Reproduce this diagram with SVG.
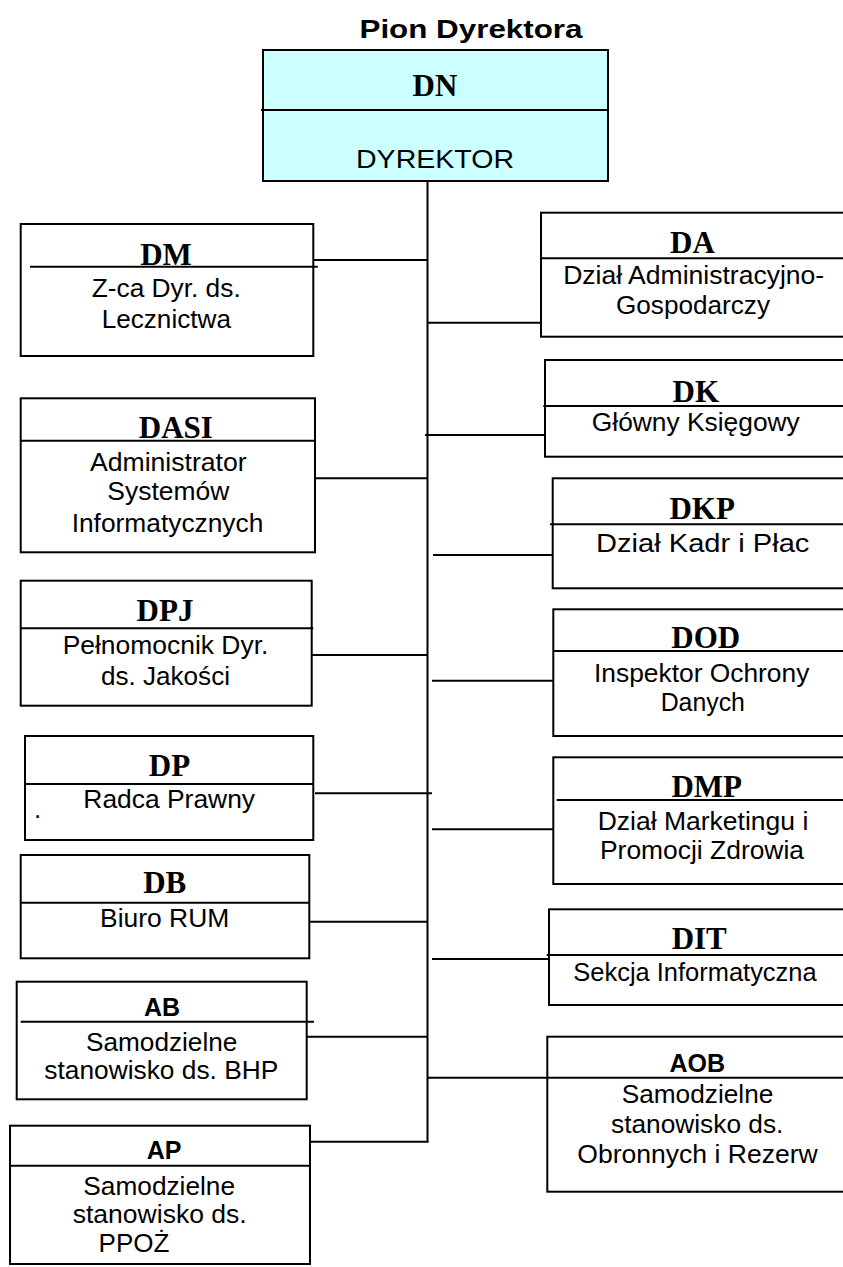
<svg xmlns="http://www.w3.org/2000/svg" width="843" height="1267" viewBox="0 0 843 1267">
<style>
.box{fill:#fff;stroke:#000;stroke-width:2}
.top{fill:#ccffff;stroke:#000;stroke-width:2}
.ln{stroke:#000;stroke-width:2;fill:none}
.h{font-family:"Liberation Serif","Times New Roman",serif;font-weight:bold;font-size:31px;text-anchor:middle;fill:#000}
.hs{font-family:"Liberation Sans",Arial,sans-serif;font-weight:bold;font-size:25px;text-anchor:middle;fill:#000}
.t{font-family:"Liberation Sans",Arial,sans-serif;font-size:26px;text-anchor:middle;fill:#000}
</style>
<rect width="843" height="1267" fill="#fff"/>
<text x="471" y="38" class="hs" font-size="30" textLength="223" lengthAdjust="spacingAndGlyphs">Pion Dyrektora</text>

<g id="connectors">
<line class="ln" x1="427.5" y1="181" x2="427.5" y2="1142"/>
<line class="ln" x1="313" y1="260" x2="427.5" y2="260"/>
<line class="ln" x1="427.5" y1="322.7" x2="541" y2="322.7"/>
<line class="ln" x1="425" y1="435" x2="545" y2="435"/>
<line class="ln" x1="315" y1="478.3" x2="427.5" y2="478.3"/>
<line class="ln" x1="433" y1="555" x2="553" y2="555"/>
<line class="ln" x1="312" y1="655" x2="427.5" y2="655"/>
<line class="ln" x1="432" y1="680.7" x2="553" y2="680.7"/>
<line class="ln" x1="315" y1="793.3" x2="432" y2="793.3"/>
<line class="ln" x1="432" y1="829.3" x2="553" y2="829.3"/>
<line class="ln" x1="307" y1="921.7" x2="427.5" y2="921.7"/>
<line class="ln" x1="432" y1="959" x2="549" y2="959"/>
<line class="ln" x1="307" y1="1036.7" x2="427.5" y2="1036.7"/>
<line class="ln" x1="427.5" y1="1077.7" x2="547" y2="1077.7"/>
<line class="ln" x1="310" y1="1141.7" x2="428.5" y2="1141.7"/>
</g>

<g id="DN">
<rect class="top" x="263" y="50" width="345" height="131"/>
<line class="ln" x1="261" y1="110" x2="609" y2="110"/>
<text x="435" y="95.7" class="h" font-size="36">DN</text>
<text x="435" y="167.7" class="t" font-size="28" textLength="158" lengthAdjust="spacingAndGlyphs">DYREKTOR</text>
</g>

<g id="DM">
<rect class="box" x="20.7" y="224" width="292.6" height="132"/>
<text x="166" y="265" class="h">DM</text>
<line class="ln" x1="30" y1="266.7" x2="317.7" y2="266.7"/>
<text x="166.2" y="297.3" class="t" textLength="149" lengthAdjust="spacingAndGlyphs">Z-ca Dyr. ds.</text>
<text x="166.3" y="328.3" class="t" textLength="129.3" lengthAdjust="spacingAndGlyphs">Lecznictwa</text>
</g>

<g id="DA">
<rect class="box" x="541" y="212.7" width="310" height="124"/>
<line class="ln" x1="541" y1="258.3" x2="851" y2="258.3"/>
<text x="692.5" y="252.7" class="h">DA</text>
<text x="693.7" y="284.3" class="t" textLength="261" lengthAdjust="spacingAndGlyphs">Dział Administracyjno-</text>
<text x="693" y="314.3" class="t" textLength="154" lengthAdjust="spacingAndGlyphs">Gospodarczy</text>
</g>

<g id="DK">
<rect class="box" x="545" y="360" width="306" height="96.7"/>
<line class="ln" x1="543.3" y1="406" x2="851" y2="406"/>
<text x="695.8" y="401.7" class="h">DK</text>
<text x="695.8" y="430.7" class="t" textLength="208" lengthAdjust="spacingAndGlyphs">Główny Księgowy</text>
</g>

<g id="DASI">
<rect class="box" x="20.7" y="398.3" width="294.3" height="154"/>
<line class="ln" x1="20.7" y1="440.7" x2="315" y2="440.7"/>
<text x="175.8" y="438.3" class="h">DASI</text>
<text x="168.3" y="470.7" class="t" textLength="156.7" lengthAdjust="spacingAndGlyphs">Administrator</text>
<text x="168.3" y="500" class="t" textLength="122" lengthAdjust="spacingAndGlyphs">Systemów</text>
<text x="167.5" y="531.7" class="t" textLength="191.7" lengthAdjust="spacingAndGlyphs">Informatycznych</text>
</g>

<g id="DKP">
<rect class="box" x="552.7" y="478.3" width="298.3" height="110"/>
<line class="ln" x1="550" y1="524.3" x2="851" y2="524.3"/>
<text x="702.2" y="519" class="h">DKP</text>
<text x="702.7" y="551.7" class="t" textLength="213.3" lengthAdjust="spacingAndGlyphs">Dział Kadr i Płac</text>
</g>

<g id="DPJ">
<rect class="box" x="20.7" y="580.7" width="291" height="125"/>
<line class="ln" x1="20.7" y1="628.3" x2="313.3" y2="628.3"/>
<text x="165" y="620.7" class="h">DPJ</text>
<text x="165.5" y="654" class="t" textLength="205.7" lengthAdjust="spacingAndGlyphs">Pełnomocnik Dyr.</text>
<text x="165.5" y="684.5" class="t" textLength="129" lengthAdjust="spacingAndGlyphs">ds. Jakości</text>
</g>

<g id="DOD">
<rect class="box" x="553.3" y="609.3" width="297.7" height="126.7"/>
<line class="ln" x1="553.3" y1="651" x2="851" y2="651"/>
<text x="705.7" y="648.3" class="h">DOD</text>
<text x="701.7" y="681.7" class="t" textLength="215.3" lengthAdjust="spacingAndGlyphs">Inspektor Ochrony</text>
<text x="702.8" y="710.7" class="t" textLength="84.3" lengthAdjust="spacingAndGlyphs">Danych</text>
</g>

<g id="DP">
<rect class="box" x="25" y="736" width="288.3" height="104"/>
<line class="ln" x1="25" y1="784" x2="313.3" y2="784"/>
<text x="169.5" y="775.7" class="h">DP</text>
<text x="169.2" y="807.7" class="t" textLength="171.7" lengthAdjust="spacingAndGlyphs">Radca Prawny</text>
<text x="37.7" y="818" class="t" font-size="12">.</text>
</g>

<g id="DMP">
<rect class="box" x="553.3" y="757.3" width="297.7" height="126.7"/>
<line class="ln" x1="556.7" y1="800" x2="851" y2="800"/>
<text x="706.7" y="797.3" class="h">DMP</text>
<text x="703" y="830" class="t" textLength="210.7" lengthAdjust="spacingAndGlyphs">Dział Marketingu i</text>
<text x="702" y="859.3" class="t" textLength="204" lengthAdjust="spacingAndGlyphs">Promocji Zdrowia</text>
</g>

<g id="DB">
<rect class="box" x="20.7" y="855" width="288.6" height="103.3"/>
<line class="ln" x1="20.7" y1="902.7" x2="309.3" y2="902.7"/>
<text x="164.7" y="893.3" class="h">DB</text>
<text x="164.7" y="926.7" class="t" textLength="129.3" lengthAdjust="spacingAndGlyphs">Biuro RUM</text>
</g>

<g id="DIT">
<rect class="box" x="549" y="909.3" width="302" height="95.7"/>
<line class="ln" x1="546.7" y1="955" x2="851" y2="955"/>
<text x="699.2" y="949.3" class="h">DIT</text>
<text x="695" y="980.7" class="t" textLength="243.3" lengthAdjust="spacingAndGlyphs">Sekcja Informatyczna</text>
</g>

<g id="AB">
<rect class="box" x="16.7" y="981.7" width="290" height="117.6"/>
<line class="ln" x1="20.7" y1="1021.7" x2="314" y2="1021.7"/>
<text x="162" y="1015.7" class="hs">AB</text>
<text x="161.7" y="1051" class="t" textLength="151.3" lengthAdjust="spacingAndGlyphs">Samodzielne</text>
<text x="161.3" y="1079" class="t" textLength="234" lengthAdjust="spacingAndGlyphs">stanowisko ds. BHP</text>
</g>

<g id="AOB">
<rect class="box" x="547.3" y="1036.7" width="303.7" height="155"/>
<line class="ln" x1="547.3" y1="1077.7" x2="851" y2="1077.7"/>
<text x="697.2" y="1072.3" class="hs">AOB</text>
<text x="697.5" y="1102.7" class="t" textLength="151.7" lengthAdjust="spacingAndGlyphs">Samodzielne</text>
<text x="697.2" y="1132.7" class="t" textLength="172.3" lengthAdjust="spacingAndGlyphs">stanowisko ds.</text>
<text x="697.5" y="1163.3" class="t" textLength="240.3" lengthAdjust="spacingAndGlyphs">Obronnych i Rezerw</text>
</g>

<g id="AP">
<rect class="box" x="10" y="1125.7" width="300" height="138.3"/>
<line class="ln" x1="10" y1="1165.7" x2="310" y2="1165.7"/>
<text x="164" y="1159" class="hs">AP</text>
<text x="159.2" y="1195" class="t" textLength="151.7" lengthAdjust="spacingAndGlyphs">Samodzielne</text>
<text x="159.7" y="1223.3" class="t" textLength="174" lengthAdjust="spacingAndGlyphs">stanowisko ds.</text>
<text x="134" y="1251.7" class="t" font-size="24">PPOŻ</text>
</g>
</svg>
